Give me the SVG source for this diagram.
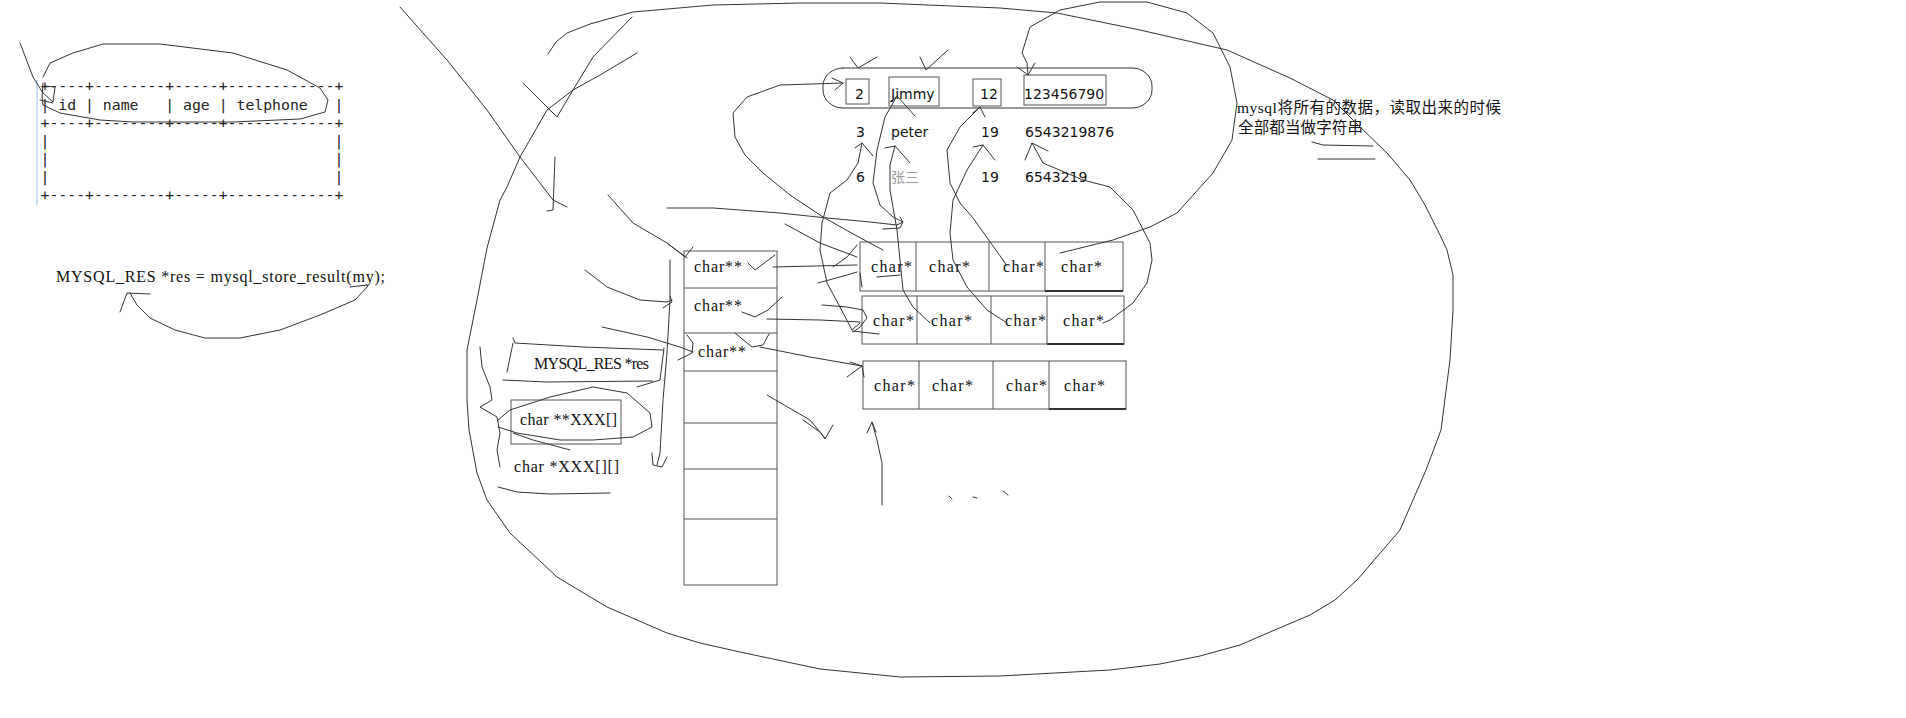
<svg xmlns="http://www.w3.org/2000/svg" width="1906" height="718" viewBox="0 0 1906 718">
<style>
.s{fill:none;stroke:#333;stroke-width:1;stroke-linejoin:round;stroke-linecap:round}
.b{fill:none;stroke:#555;stroke-width:1}
.mono{font-family:"DejaVu Sans Mono",monospace;font-size:14.8px;fill:#222}
.sans{font-family:"DejaVu Sans",sans-serif;font-size:14px;fill:#111}
.ser{font-family:"Liberation Serif",serif;font-size:16px;fill:#111}
.cjk{font-family:"Liberation Serif","Noto Sans CJK SC",sans-serif;font-size:15.5px;fill:#111}
</style>
<rect width="1906" height="718" fill="#fff"/>

<g id="table">
<line x1="37" y1="80" x2="37" y2="205" stroke="#b8d4f0" stroke-width="1.5"/>
<text class="mono" xml:space="preserve"><tspan x="40.5" y="91">+----+--------+-----+------------+</tspan><tspan x="40.5" y="110">| id | name   | age | telphone   |</tspan><tspan x="40.5" y="128">+----+--------+-----+------------+</tspan><tspan x="40.5" y="146">|                                |</tspan><tspan x="40.5" y="164">|                                |</tspan><tspan x="40.5" y="182">|                                |</tspan><tspan x="40.5" y="200">+----+--------+-----+------------+</tspan></text>
</g>

<g id="code">
<text class="ser" x="56" y="282" textLength="329" lengthAdjust="spacing">MYSQL_RES *res = mysql_store_result(my);</text>
</g>

<g id="note">
<text class="cjk" x="1237" y="113" textLength="264" lengthAdjust="spacing">mysql将所有的数据，读取出来的时候</text>
<text class="cjk" x="1238" y="133" textLength="125" lengthAdjust="spacing">全部都当做字符串</text>
</g>

<g id="rows">
<rect x="823" y="68" width="329" height="40" rx="20" ry="18" class="s"/>
<rect x="846" y="79" width="23" height="25" class="b"/>
<rect x="889" y="77" width="50" height="29" class="b"/>
<rect x="973" y="79" width="28" height="27" class="b"/>
<rect x="1024" y="75" width="82" height="30" class="b"/>
<text class="sans" x="855" y="99">2</text>
<text class="sans" x="891" y="99">Jimmy</text>
<text class="sans" x="980" y="99">12</text>
<text class="sans" x="1024" y="99">123456790</text>
<text class="sans" x="856" y="137">3</text>
<text class="sans" x="891" y="137">peter</text>
<text class="sans" x="981" y="137">19</text>
<text class="sans" x="1025" y="137">6543219876</text>
<text class="sans" x="856" y="182">6</text>
<text class="sans" x="891" y="182" style="fill:#999;font-family:'Noto Sans CJK SC',sans-serif">张三</text>
<text class="sans" x="981" y="182">19</text>
<text class="sans" x="1025" y="182">6543219</text>
</g>

<g id="column">
<rect x="684" y="251" width="93" height="334" class="b"/>
<path class="b" d="M684,288H777M684,333H777M684,371H777M684,423H777M684,469H777M684,519H777"/>
<text class="ser" x="694" y="272" textLength="48" lengthAdjust="spacing">char**</text>
<text class="ser" x="694" y="311" textLength="48" lengthAdjust="spacing">char**</text>
<text class="ser" x="698" y="357" textLength="48" lengthAdjust="spacing">char**</text>
</g>

<g id="rowA">
<rect x="860" y="242" width="263" height="49" class="b"/>
<path class="b" d="M916,242V291M989,242V291M1045,242V291"/>
<line x1="1045" y1="291" x2="1123" y2="291" stroke="#333" stroke-width="2"/>
<text class="ser" x="871" y="272" textLength="41" lengthAdjust="spacing">char*</text>
<text class="ser" x="929" y="272" textLength="41" lengthAdjust="spacing">char*</text>
<text class="ser" x="1003" y="272" textLength="41" lengthAdjust="spacing">char*</text>
<text class="ser" x="1061" y="272" textLength="41" lengthAdjust="spacing">char*</text>
</g>
<g id="rowB">
<rect x="862" y="296" width="262" height="48" class="b"/>
<path class="b" d="M917,296V344M991,296V344M1047,296V344"/>
<line x1="1047" y1="344" x2="1124" y2="344" stroke="#333" stroke-width="2"/>
<text class="ser" x="873" y="326" textLength="41" lengthAdjust="spacing">char*</text>
<text class="ser" x="931" y="326" textLength="41" lengthAdjust="spacing">char*</text>
<text class="ser" x="1005" y="326" textLength="41" lengthAdjust="spacing">char*</text>
<text class="ser" x="1063" y="326" textLength="41" lengthAdjust="spacing">char*</text>
</g>
<g id="rowC">
<rect x="863" y="361" width="263" height="48" class="b"/>
<path class="b" d="M919,361V409M993,361V409M1049,361V409"/>
<line x1="1049" y1="409" x2="1126" y2="409" stroke="#333" stroke-width="2"/>
<text class="ser" x="874" y="391" textLength="41" lengthAdjust="spacing">char*</text>
<text class="ser" x="932" y="391" textLength="41" lengthAdjust="spacing">char*</text>
<text class="ser" x="1006" y="391" textLength="41" lengthAdjust="spacing">char*</text>
<text class="ser" x="1064" y="391" textLength="41" lengthAdjust="spacing">char*</text>
</g>

<g id="labels">
<text class="ser" x="534" y="369" textLength="115" lengthAdjust="spacing">MYSQL_RES *res</text>
<rect x="511" y="400" width="110" height="44" class="b"/>
<text class="ser" x="520" y="425" textLength="97" lengthAdjust="spacing">char **XXX[]</text>
<text class="ser" x="514" y="472" textLength="105" lengthAdjust="spacing">char *XXX[][]</text>
</g>

<g id="connectors">
<path class="s" d="M43,77L50,63L73,53L103,44L160,44L233,53L287,70L320,88L328,100L325,112L300,119L233,122L133,122L100,120L60,113L43,105L42,97L43,83"/>
<path class="s" d="M20,43L33,77L43,93L53,102L55,87L45,86M40,100L53,103"/>
<path class="s" d="M368,286L355,300L320,315L280,330L240,338L205,338L175,330L150,318L137,305L130,293M120,312L127,293L150,294M350,287L367,285"/>
<path class="s" d="M1312,142L1323,145L1373,146M1318,159L1375,159"/>
<path class="s" d="M548,54L556,42L567,33L590,24L633,12L713,5L800,3L880,3L1000,8L1057,13L1140,30L1227,50L1290,78L1333,100L1360,127L1387,153L1410,180L1425,205L1440,235L1447,250L1453,275L1453,310L1450,360L1447,383L1441,430L1426,470L1400,530L1357,580L1335,600L1310,615L1270,632L1240,645L1200,656L1160,664L1110,670L1000,676L900,677L820,669L740,652L700,643L667,633L607,607L557,577L510,533L487,500L477,473L469,430L467,400L467,350L477,300L487,248L500,200L507,187L520,157L547,110L573,90L600,75L637,53"/>
<path class="s" d="M400,7L447,60L487,110L520,157L553,200L567,207M555,157L553,210L547,211"/>
<path class="s" d="M523,83L557,117L573,90L593,57L632,17"/>
<path class="s" d="M608,195L633,223L667,243L687,258M667,243L685,257L693,247"/>
<path class="s" d="M667,208L713,208L780,213L827,218L870,222L897,225L903,222L900,217"/>
<path class="s" d="M785,224L820,243L857,257"/>
<path class="s" d="M883,250L855,235L823,217L790,195L763,173L745,155L735,137L733,113L747,97L780,85L843,83M832,78L843,83L835,90"/>
<path class="s" d="M850,57L858,68L877,57M920,57L926,70L948,50"/>
<path class="s" d="M1060,253L1113,240L1150,227L1177,213L1213,173L1232,140L1237,103L1230,67L1213,33L1187,13L1147,2L1100,2L1060,10L1030,27L1022,53L1027,63L1028,75M1017,67L1028,75L1035,63"/>
<path class="s" d="M890,102L897,96L915,116M897,96L885,117L877,150L873,183L880,205L893,217L903,222L900,228L883,229"/>
<path class="s" d="M855,148L862,143L873,156M862,143L858,163L847,180L830,193L822,223L820,250L827,283L840,307L852,330L860,323"/>
<path class="s" d="M885,148L895,146L910,163M895,146L890,165L890,190L897,230L900,260L903,290L913,307L930,323"/>
<path class="s" d="M973,113L980,107L985,117M980,107L960,127L947,150L950,183L960,203L973,218L1003,260L1007,266"/>
<path class="s" d="M973,147L983,145L995,160M983,145L967,170L953,200L950,233L953,260L967,287L987,310L1007,323"/>
<path class="s" d="M1025,160L1032,143L1048,151M1032,143L1043,163L1083,180L1110,187L1133,210L1150,243L1152,260L1147,283L1133,303L1110,320L1103,323"/>
<path class="s" d="M773,267L857,265M833,267L847,257L857,245M818,283L847,275L857,272M860,273L862,287M877,277L900,275M748,263L755,270L775,255"/>
<path class="s" d="M767,319L820,320L860,322M822,305L847,307L863,310L867,318L860,327L853,332M852,331L879,334M742,312L755,317L768,310L782,297"/>
<path class="s" d="M760,347L810,357L862,366M847,377L862,366M850,362L862,366L864,377M735,333L752,347L763,345L769,334"/>
<path class="s" d="M585,270L607,287L640,300L667,302L672,300M663,308L672,302L670,296"/>
<path class="s" d="M602,327L647,337L680,347L693,352M687,335L693,343L692,353L678,360"/>
<path class="s" d="M670,260L670,300L667,353L663,400L660,453L657,465M652,453L653,465L662,467L667,457"/>
<path class="s" d="M513,338L515,343L583,347L663,350M513,343L507,372M503,380L547,382L653,381M664,348L660,380L637,387"/>
<path class="s" d="M498,420L510,410L550,397L593,387L627,393L650,413L652,427L633,437L593,440L560,440L517,433L498,427M513,433L533,440L570,450"/>
<path class="s" d="M498,487L517,492L550,494L610,493"/>
<path class="s" d="M480,347L482,367L490,387L492,400L480,407L497,417L500,433L497,450L500,467"/>
<path class="s" d="M767,395L810,420L825,438M803,420L820,432L825,439L833,425"/>
<path class="s" d="M882,505L882,463L877,440L872,422M867,433L872,422L876,432"/>
<path class="s" d="M949,496L952,499M973,497L977,498M1003,491L1008,495"/>
</g>
</svg>
